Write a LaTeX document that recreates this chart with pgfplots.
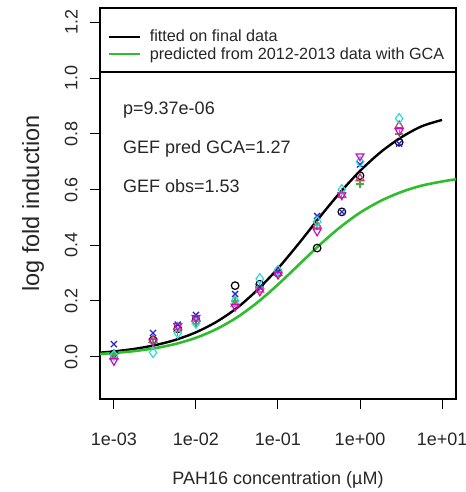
\documentclass[border=0pt]{standalone}
\usepackage{pgfplots}
\pgfplotsset{compat=1.18}
\usepackage{fontspec}
\setmainfont{Liberation Sans}

\definecolor{rblack}{HTML}{000000}
\definecolor{rred}{HTML}{D6306A}
\definecolor{rgreen}{HTML}{4CA838}
\definecolor{rblue}{HTML}{2828C8}
\definecolor{rcyan}{HTML}{30D8D8}
\definecolor{rmagenta}{HTML}{CD0BBC}
\definecolor{fitgreen}{HTML}{2EBD2E}

% replicate measurements: concentration (uM) and log fold induction
\pgfplotstableread{
conc   r1     r2     r3    r4     r5     r6
0.001  0.010  0.000  0.010 0.045  0.005  -0.015
0.003  0.060  0.060  0.050 0.085  0.015  0.055
0.006  0.100  0.105  0.090 0.115  0.085  0.110
0.01   0.130  0.135  0.120 0.150  0.120  0.140
0.03   0.255  0.190  0.200 0.225  0.200  0.180
0.06   0.260  0.240  0.250 0.250  0.280  0.235
0.1    0.300  0.300  0.300 0.305  0.310  0.295
0.3    0.390  0.470  0.470 0.505  0.485  0.450
0.6    0.520  0.580  0.590 0.520  0.600  0.580
1      0.650  0.640  0.620 0.690  0.700  0.720
3      0.770  0.830  0.800 0.765  0.855  0.810
}\replicates

% fitted curve on the final data
\pgfplotstableread{
x         y
0.000676  0.0144
0.001     0.0189
0.001778  0.0280
0.003162  0.0412
0.005623  0.0603
0.01      0.0875
0.01778   0.125
0.03162   0.175
0.05623   0.240
0.1       0.317
0.1778    0.405
0.3162    0.498
0.5623    0.587
1         0.667
1.778     0.734
3.162     0.787
5.623     0.827
10        0.850
}\fitted

% curve predicted from the 2012-2013 data with GCA
\pgfplotstableread{
x         y
0.000676  0.0099
0.001     0.0132
0.001778  0.0201
0.003162  0.0304
0.005623  0.0457
0.01      0.0678
0.01778   0.099
0.03162   0.141
0.05623   0.195
0.1       0.259
0.1778    0.329
0.3162    0.399
0.5623    0.463
1         0.517
1.778     0.559
3.162     0.591
5.623     0.614
10        0.629
14.79     0.637
}\predicted

\begin{document}
\begin{tikzpicture}
\begin{axis}[
  scale only axis,
  width=356bp, height=391bp,
  xmode=log,
  xmin=6.761e-4, xmax=14.79,
  ymin=-0.152, ymax=1.252,
  axis line style={line width=1.2bp},
  xtick={0.001,0.01,0.1,1,10},
  xticklabels={1e-03,1e-02,1e-01,1e+00,1e+01},
  xminorticks=false,
  ytick={0,0.2,0.4,0.6,0.8,1.0,1.2},
  yticklabels={0.0,0.2,0.4,0.6,0.8,1.0,1.2},
  xtick pos=bottom, ytick pos=left,
  tick align=outside,
  major tick length=10bp,
  tick style={line width=1bp, black},
  tick label style={font=\fontsize{18bp}{21bp}\selectfont, text=black!85},
  xticklabel shift=20bp,
  yticklabel shift=9bp,
  yticklabel style={rotate=90, anchor=south},
  label style={font=\fontsize{18bp}{21bp}\selectfont, text=black!85},
  xlabel={PAH16 concentration (µM)},
  ylabel={log fold induction},
  xlabel style={at={(axis description cs:0.5,-0.2072)}, anchor=center},
  ylabel style={at={(axis description cs:-0.188,0.5)}, anchor=center,
    font=\fontsize{23.5bp}{27bp}\selectfont},
  legend style={
    at={(axis description cs:0.0197,0.949)}, anchor=north west,
    draw=none, fill=none, inner sep=0pt,
    font=\fontsize{16.2bp}{19bp}\selectfont,
    row sep=0pt,
    nodes={text=black!85},
    /tikz/every odd column/.append style={column sep=7bp},
  },
  legend cell align=left,
  legend image code/.code={\draw[#1] (0bp,0bp) -- (31bp,0bp);},
  clip=false,
]
% replicate series
\addplot[only marks, mark=o, mark size=3.8bp, rblack, mark options={line width=1.2bp}, forget plot]
  table[x=conc, y=r1] {\replicates};
\addplot[only marks, mark=triangle, mark size=4.5bp, rred, mark options={line width=1.2bp}, forget plot]
  table[x=conc, y=r2] {\replicates};
\addplot[only marks, mark=+, mark size=4.3bp, rgreen, mark options={line width=1.3bp}, forget plot]
  table[x=conc, y=r3] {\replicates};
\addplot[only marks, mark=x, mark size=4.3bp, rblue, mark options={line width=1.3bp}, forget plot]
  table[x=conc, y=r4] {\replicates};
\addplot[only marks, mark=diamond, mark size=5bp, rcyan, mark options={line width=1.2bp}, forget plot]
  table[x=conc, y=r5] {\replicates};
\addplot[only marks, mark=triangle, mark size=4.5bp, rmagenta, mark options={line width=1.2bp, rotate=180}, forget plot]
  table[x=conc, y=r6] {\replicates};

% dose-response curves
\addplot[black, line width=2.4bp, smooth, no markers] table {\fitted};
\addlegendentry{fitted on final data}
\addplot[fitgreen, line width=2.6bp, smooth, no markers] table {\predicted};
\addlegendentry{predicted from 2012-2013 data with GCA}

% legend frame
\draw[line width=1.2bp] (axis description cs:0,1) rectangle (axis description cs:1,0.8363);

% fit statistics
\node[anchor=base west, inner sep=0pt, font=\fontsize{18bp}{21bp}\selectfont, text=black!85]
  at (axis description cs:0.0646,0.728) {p=9.37e-06};
\node[anchor=base west, inner sep=0pt, font=\fontsize{18bp}{21bp}\selectfont, text=black!85]
  at (axis description cs:0.0646,0.628) {GEF pred GCA=1.27};
\node[anchor=base west, inner sep=0pt, font=\fontsize{18bp}{21bp}\selectfont, text=black!85]
  at (axis description cs:0.0646,0.528) {GEF obs=1.53};
\end{axis}
\pgfresetboundingbox
\path ([shift={(-100bp,-93bp)}]current axis.south west) rectangle ([shift={(10bp,8bp)}]current axis.north east);
\end{tikzpicture}
\end{document}
